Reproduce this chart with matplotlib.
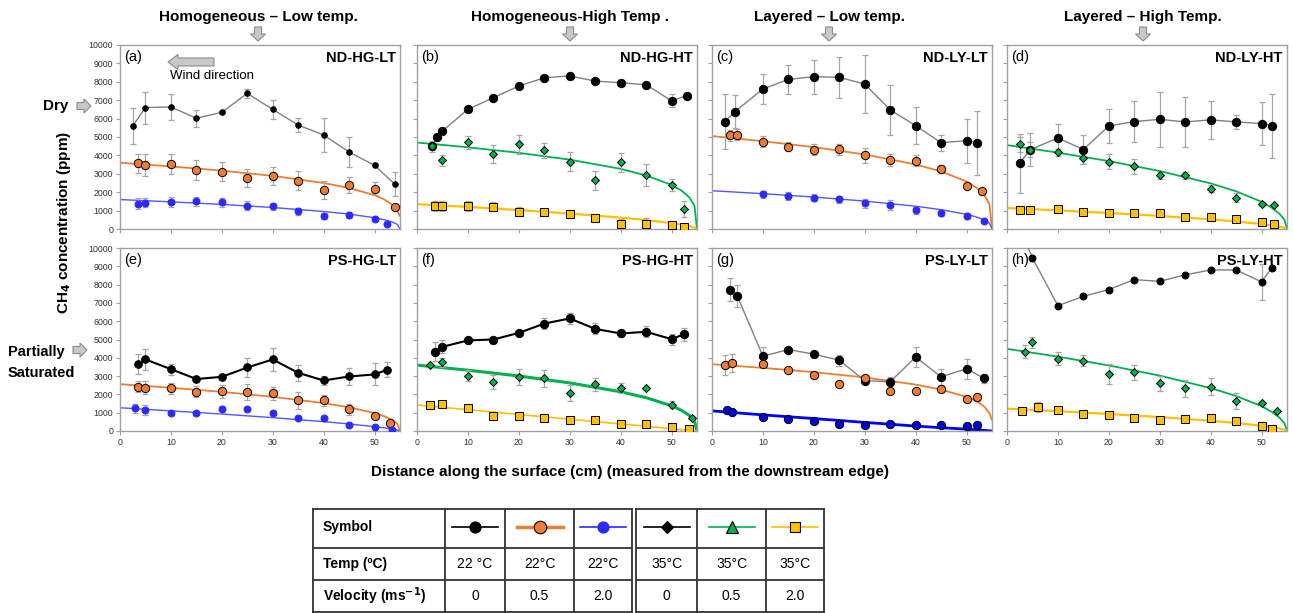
import matplotlib.pyplot as plt
from matplotlib.patches import FancyArrow

plt.rcParams.update({
    "font.family": ["Liberation Sans", "DejaVu Sans"],
    "axes.linewidth": 1.0,
})

# ----- data (ppm vs cm) -----
FIT_X = [0, 10, 20, 30, 40, 45, 50, 52, 53.5, 54.5, 55]

# (a) ND-HG-LT
a_blk_x = [2.5, 5, 10, 15, 20, 25, 30, 35, 40, 45, 50, 54]
a_blk_y = [5600, 6600, 6630, 6020, 6340, 7370, 6500, 5650, 5110, 4180, 3460, 2430]
a_blk_e = [1000, 870, 700, 450, 100, 250, 500, 380, 900, 800, 100, 650]
a_org_x = [3.5, 5, 10, 15, 20, 25, 30, 35, 40, 45, 50, 54]
a_org_y = [3570, 3460, 3530, 3220, 3120, 2770, 2880, 2630, 2120, 2390, 2190, 1200]
a_org_e = [500, 600, 550, 550, 500, 500, 500, 500, 500, 450, 350, 100]
a_blu_x = [3.5, 5, 10, 15, 20, 25, 30, 35, 40, 45, 50, 52.5]
a_blu_y = [1360, 1430, 1470, 1500, 1450, 1270, 1230, 960, 710, 760, 530, 290]
a_blu_e = [300, 250, 250, 250, 250, 250, 200, 200, 150, 150, 100, 50]
a_org_fit = [3600, 3400, 3170, 2890, 2500, 2230, 1840, 1595, 1315, 965, 700]
a_blu_fit = [1600, 1477, 1336, 1168, 952, 810, 613, 500, 380, 245, 0]

# (b) ND-HG-HT
b_blk_x = [3, 4, 5, 10, 15, 20, 25, 30, 35, 40, 45, 50, 53]
b_blk_y = [4490, 5020, 5330, 6500, 7140, 7770, 8220, 8320, 8040, 7950, 7840, 6970, 7250]
b_blk_e = [100, 100, 100, 100, 100, 100, 100, 100, 100, 100, 100, 350, 100]
b_grn_x = [3, 5, 10, 15, 20, 25, 30, 35, 40, 45, 50, 52.5]
b_grn_y = [4490, 3730, 4710, 4060, 4600, 4280, 3660, 2640, 3620, 2950, 2390, 1090]
b_grn_e = [300, 300, 350, 500, 500, 400, 500, 500, 500, 600, 350, 450]
b_yel_x = [3.5, 5, 10, 15, 20, 25, 30, 35, 40, 45, 50, 52.5]
b_yel_y = [1250, 1250, 1250, 1210, 940, 900, 830, 620, 250, 290, 220, 110]
b_yel_e = [250, 250, 250, 250, 250, 200, 200, 150, 300, 300, 150, 50]
b_grn_fit = [4700, 4440, 4140, 3770, 3270, 2910, 2400, 2080, 1715, 1260, 0]
b_yel_fit = [1350, 1200, 1030, 840, 620, 485, 320, 235, 155, 80, 0]

# (c) ND-LY-LT
c_blk_x = [2.5, 4.5, 10, 15, 20, 25, 30, 35, 40, 45, 50, 52]
c_blk_y = [5830, 6380, 7610, 8130, 8280, 8240, 7880, 6470, 5620, 4690, 4800, 4690]
c_blk_e = [1500, 880, 830, 800, 920, 1100, 1560, 1340, 1020, 440, 1200, 1750]
c_org_x = [3.5, 5, 10, 15, 20, 25, 30, 35, 40, 45, 50, 53]
c_org_y = [5090, 5110, 4750, 4470, 4310, 4330, 4000, 3750, 3700, 3260, 2340, 2070]
c_org_e = [300, 300, 300, 250, 300, 300, 400, 350, 300, 200, 100, 100]
c_blu_x = [10, 15, 20, 25, 30, 35, 40, 45, 50, 53.5]
c_blu_y = [1880, 1790, 1700, 1610, 1390, 1300, 1010, 870, 720, 430]
c_blu_e = [200, 200, 200, 200, 250, 250, 200, 150, 150, 50]
c_org_fit = [5050, 4770, 4450, 4050, 3510, 3130, 2580, 2240, 1840, 1350, 0]
c_blu_fit = [2080, 1920, 1737, 1518, 1238, 1052, 797, 649, 493, 318, 0]

# (d) ND-LY-HT
d_blk_x = [2.5, 4.5, 10, 15, 20, 25, 30, 35, 40, 45, 50, 52]
d_blk_y = [3570, 4300, 4950, 4320, 5600, 5840, 5960, 5820, 5930, 5820, 5730, 5620]
d_blk_e = [1600, 900, 770, 770, 900, 1100, 1500, 1350, 1030, 400, 1180, 1740]
d_grn_x = [2.5, 4.5, 10, 15, 20, 25, 30, 35, 40, 45, 50, 52.5]
d_grn_y = [4610, 4320, 4160, 3840, 3660, 3410, 2920, 2920, 2200, 1710, 1350, 1280]
d_grn_e = [400, 400, 200, 300, 400, 400, 200, 200, 200, 250, 100, 50]
d_yel_x = [2.5, 4.5, 10, 15, 20, 25, 30, 35, 40, 45, 50, 52.5]
d_yel_y = [1030, 1030, 1080, 900, 860, 860, 850, 670, 630, 520, 360, 270]
d_yel_e = [80, 80, 120, 80, 60, 60, 60, 60, 60, 60, 60, 40]
d_grn_fit = [4560, 4150, 3690, 3150, 2480, 2050, 1480, 1160, 840, 500, 0]
d_yel_fit = [1140, 1010, 870, 710, 523, 409, 270, 200, 131, 68, 0]

# (e) PS-HG-LT
e_blk_x = [3.5, 5, 10, 15, 20, 25, 30, 35, 40, 45, 50, 52.5]
e_blk_y = [3650, 3910, 3380, 2840, 2960, 3470, 3910, 3180, 2760, 2980, 3090, 3350]
e_blk_e = [550, 550, 300, 150, 150, 500, 650, 450, 250, 450, 600, 400]
e_org_x = [3.5, 5, 10, 15, 20, 25, 30, 35, 40, 45, 50, 53]
e_org_y = [2420, 2360, 2330, 2150, 2180, 2130, 2070, 1670, 1670, 1200, 840, 420]
e_org_e = [300, 350, 300, 300, 350, 450, 350, 450, 300, 300, 100, 80]
e_blu_x = [3, 5, 10, 15, 20, 25, 30, 35, 40, 45, 50, 53.5]
e_blu_y = [1240, 1150, 1000, 960, 1180, 1180, 960, 710, 730, 350, 200, 50]
e_blu_e = [250, 250, 100, 100, 200, 100, 100, 80, 80, 50, 50, 30]
e_org_fit = [2560, 2363, 2138, 1869, 1523, 1295, 980, 799, 607, 392, 0]
e_blu_fit = [1270, 1100, 926, 730, 512, 385, 237, 166, 102, 47, 0]

# (f) PS-HG-HT
f_blk_x = [3.5, 5, 10, 15, 20, 25, 30, 35, 40, 45, 50, 52.5]
f_blk_y = [4330, 4600, 4950, 5000, 5360, 5870, 6150, 5580, 5330, 5420, 5020, 5290]
f_blk_e = [520, 350, 150, 100, 100, 300, 300, 300, 200, 300, 300, 350]
f_grn_x = [2.5, 5, 10, 15, 20, 25, 30, 35, 40, 45, 50, 54]
f_grn_y = [3600, 3760, 3020, 2670, 2960, 2870, 2090, 2550, 2350, 2330, 1440, 710]
f_grn_e = [80, 250, 300, 400, 450, 450, 450, 350, 300, 80, 200, 50]
f_yel_x = [2.5, 5, 10, 15, 20, 25, 30, 35, 40, 45, 50, 53.5]
f_yel_y = [1420, 1490, 1250, 800, 800, 710, 580, 620, 360, 380, 240, 130]
f_yel_e = [150, 100, 80, 60, 60, 60, 60, 60, 60, 60, 60, 40]
f_grn_fit = [3600, 3323, 3006, 2628, 2142, 1822, 1379, 1123, 853, 551, 0]
f_yel_fit = [1420, 1162, 904, 645, 387, 258, 129, 77, 39, 13, 0]

# (g) PS-LY-LT
g_blk_x = [3.5, 5, 10, 15, 20, 25, 30, 35, 40, 45, 50, 53.5]
g_blk_y = [7730, 7360, 4090, 4450, 4200, 3870, 2750, 2690, 4040, 2960, 3400, 2870]
g_blk_e = [650, 600, 500, 100, 100, 300, 150, 250, 550, 450, 550, 250]
g_org_x = [2.5, 4, 10, 15, 20, 25, 30, 35, 40, 45, 50, 52]
g_org_y = [3600, 3730, 3670, 3360, 3050, 2550, 2910, 2180, 2160, 2310, 1730, 1840]
g_org_e = [550, 500, 100, 100, 100, 80, 100, 80, 80, 100, 80, 200]
g_blu_x = [3, 4, 10, 15, 20, 25, 30, 35, 40, 45, 50, 52]
g_blu_y = [1150, 1050, 760, 670, 550, 400, 350, 380, 350, 350, 270, 330]
g_blu_e = [150, 80, 60, 60, 60, 60, 60, 60, 60, 60, 60, 60]
g_org_fit = [3650, 3450, 3216, 2927, 2537, 2263, 1865, 1617, 1332, 978, 600]
g_blu_fit = [1100, 880, 680, 470, 270, 180, 100, 60, 30, 10, 0]

# (h) PS-LY-HT
h_blk_x = [3, 5, 10, 15, 20, 25, 30, 35, 40, 45, 50, 52]
h_blk_y = [10800, 9450, 6850, 7360, 7730, 8270, 8180, 8530, 8800, 8800, 8150, 8910]
h_blk_e = [0, 0, 60, 60, 60, 60, 60, 60, 60, 60, 1000, 0]
h_grn_x = [3.5, 5, 10, 15, 20, 25, 30, 35, 40, 45, 50, 53]
h_grn_y = [4330, 4860, 3960, 3840, 3110, 3200, 2600, 2330, 2420, 1640, 1510, 1070]
h_grn_e = [350, 300, 350, 300, 550, 400, 400, 450, 450, 450, 100, 50]
h_yel_x = [3, 6, 10, 15, 20, 25, 30, 35, 40, 45, 50, 52]
h_yel_y = [1090, 1310, 1130, 950, 870, 730, 620, 670, 730, 530, 250, 130]
h_yel_e = [150, 250, 80, 80, 80, 80, 60, 60, 60, 60, 60, 40]
h_grn_fit = [4490, 4063, 3583, 3026, 2344, 1913, 1356, 1051, 741, 427, 0]
h_yel_fit = [1220, 1082, 930, 760, 560, 438, 289, 214, 140, 73, 0]

COL_TITLES = ["Homogeneous \u2013 Low temp.", "Homogeneous-High Temp .",
              "Layered \u2013 Low temp.", "Layered \u2013 High Temp."]
TABLE_TEMPS = ["22 \u00b0C", "22\u00b0C", "22\u00b0C", "35\u00b0C", "35\u00b0C", "35\u00b0C"]
TABLE_VELS = ["0", "0.5", "2.0", "0", "0.5", "2.0"]

# ----- colours -----
ORANGE = "#ED7D31"
BLUE = "#2a2aff"
GREEN = "#00B050"
YELLOW = "#FFC000"
GREY_LINE = "#808080"
ERR = "#a6a6a6"
SPINE = "#a0a0a0"

W, H = 1293, 613
fig = plt.figure(figsize=(W / 100, H / 100), dpi=100)
fig.patch.set_facecolor("white")


def px_axes(x0, y0, x1, y1, **kw):
    return fig.add_axes([x0 / W, 1 - y1 / H, (x1 - x0) / W, (y1 - y0) / H], **kw)


def series(ax, x, y, e, marker, ms, fc, ec, line=None, lw=1.0):
    ax.errorbar(x, y, yerr=e, fmt="none", ecolor=ERR, elinewidth=0.9,
                capsize=2, capthick=0.9, zorder=2)
    if line:
        ax.plot(x, y, color=line, lw=lw, zorder=3)
    ax.plot(x, y, ls="none", marker=marker, ms=ms, mfc=fc, mec=ec,
            mew=0.7, zorder=4)


COLS = [(120, 400), (417, 697), (712, 992), (1007, 1287)]
ROWS = [(45, 229), (248, 431)]

# per panel: tag, name, row, col, hot, data, black-line style, fit widths
PANELS = [
    ("(a)", "ND-HG-LT", 0, 0, False,
     (a_blk_x, a_blk_y, a_blk_e), (a_org_x, a_org_y, a_org_e), (a_blu_x, a_blu_y, a_blu_e),
     a_org_fit, a_blu_fit, (4, GREY_LINE, 1.0), (1.3, 1.0)),
    ("(b)", "ND-HG-HT", 0, 1, True,
     (b_blk_x, b_blk_y, b_blk_e), (b_grn_x, b_grn_y, b_grn_e), (b_yel_x, b_yel_y, b_yel_e),
     b_grn_fit, b_yel_fit, (6, GREY_LINE, 1.0), (1.3, 1.6)),
    ("(c)", "ND-LY-LT", 0, 2, False,
     (c_blk_x, c_blk_y, c_blk_e), (c_org_x, c_org_y, c_org_e), (c_blu_x, c_blu_y, c_blu_e),
     c_org_fit, c_blu_fit, (6, GREY_LINE, 1.0), (1.3, 1.0)),
    ("(d)", "ND-LY-HT", 0, 3, True,
     (d_blk_x, d_blk_y, d_blk_e), (d_grn_x, d_grn_y, d_grn_e), (d_yel_x, d_yel_y, d_yel_e),
     d_grn_fit, d_yel_fit, (6, GREY_LINE, 1.0), (1.3, 1.6)),
    ("(e)", "PS-HG-LT", 1, 0, False,
     (e_blk_x, e_blk_y, e_blk_e), (e_org_x, e_org_y, e_org_e), (e_blu_x, e_blu_y, e_blu_e),
     e_org_fit, e_blu_fit, (5.5, "black", 1.5), (1.3, 1.0)),
    ("(f)", "PS-HG-HT", 1, 1, True,
     (f_blk_x, f_blk_y, f_blk_e), (f_grn_x, f_grn_y, f_grn_e), (f_yel_x, f_yel_y, f_yel_e),
     f_grn_fit, f_yel_fit, (6, "black", 1.5), (2.2, 1.2)),
    ("(g)", "PS-LY-LT", 1, 2, False,
     (g_blk_x, g_blk_y, g_blk_e), (g_org_x, g_org_y, g_org_e), (g_blu_x, g_blu_y, g_blu_e),
     g_org_fit, g_blu_fit, (6, GREY_LINE, 1.0), (1.3, 2.0)),
    ("(h)", "PS-LY-HT", 1, 3, True,
     (h_blk_x, h_blk_y, h_blk_e), (h_grn_x, h_grn_y, h_grn_e), (h_yel_x, h_yel_y, h_yel_e),
     h_grn_fit, h_yel_fit, (5, GREY_LINE, 1.0), (1.3, 1.6)),
]

for tag, name, r, c, hot, blk, mid, low, mid_fit, low_fit, bstyle, fitw in PANELS:
    x0, x1 = COLS[c]
    y0, y1 = ROWS[r]
    ax = px_axes(x0, y0, x1, y1)
    ax.set_xlim(0, 55)
    ax.set_ylim(0, 10000)
    ax.set_xticks(range(0, 55, 10))
    ax.set_yticks(range(0, 10001, 1000))
    for s in ax.spines.values():
        s.set_color(SPINE)
    ax.tick_params(length=3, width=0.8, color=SPINE, labelsize=6.3,
                   labelcolor="#333333", pad=2)
    if c != 0:
        ax.set_yticklabels([])
    if r == 0:
        ax.set_xticklabels([])

    # fitted curves
    if hot:
        ax.plot(FIT_X, mid_fit, color=GREEN, lw=fitw[0], zorder=1)
        ax.plot(FIT_X, low_fit, color=YELLOW, lw=fitw[1], zorder=1)
    else:
        ax.plot(FIT_X, mid_fit, color=ORANGE, lw=fitw[0], zorder=1)
        ax.plot(FIT_X, low_fit, color="#0000ff" if tag == "(g)" else "#5555ff",
                lw=fitw[1], zorder=1)

    ms, lcol, lw = bstyle
    series(ax, *blk, "o", ms, "black", "black", line=lcol, lw=lw)
    if hot:
        series(ax, *mid, "D", 4.2, GREEN, "black")
        series(ax, *low, "s", 5.5, YELLOW, "black")
    else:
        series(ax, *mid, "o", 6, ORANGE, "black")
        if tag == "(g)":
            series(ax, *low, "o", 6, "#0000dd", "black")
        else:
            series(ax, *low, "o", 5, BLUE, BLUE)

    ax.text(0.015, 0.975, tag, transform=ax.transAxes, ha="left", va="top",
            fontsize=10.5, zorder=6)
    ax.text(0.985, 0.965, name, transform=ax.transAxes, ha="right", va="top",
            fontsize=10.5, weight="bold", zorder=6)

# ----- overlay in pixel coordinates -----
ov = px_axes(0, 0, W, H, zorder=10)
ov.set_xlim(0, W)
ov.set_ylim(H, 0)
ov.axis("off")
ov.patch.set_alpha(0)

ARW = dict(facecolor="#c8c8c8", edgecolor="#8c8c8c", linewidth=0.8,
           length_includes_head=True)

for (cx, title) in zip([258, 570, 829, 1143], COL_TITLES):
    ov.text(cx, 17, title, ha="center", va="center", fontsize=11, weight="bold")
    ov.add_patch(FancyArrow(cx, 27, 0, 14, width=7, head_width=15,
                            head_length=7, **ARW))

# row labels
ov.text(43, 106, "Dry", ha="left", va="center", fontsize=11, weight="bold")
ov.add_patch(FancyArrow(77, 106, 14, 0, width=7, head_width=14, head_length=7, **ARW))
ov.text(8, 352, "Partially", ha="left", va="center", fontsize=10.5, weight="bold")
ov.text(8, 373, "Saturated", ha="left", va="center", fontsize=10.5, weight="bold")
ov.add_patch(FancyArrow(73, 350, 14, 0, width=7, head_width=14, head_length=7, **ARW))

# wind direction
ov.add_patch(FancyArrow(214, 62, -46, 0, width=8, head_width=15, head_length=10, **ARW))
ov.text(170, 76, "Wind direction", ha="left", va="center", fontsize=9.5)

# axis titles
ov.text(64, 222, "CH$_\\mathbf{4}$ concentration (ppm)", rotation=90, ha="center",
        va="center", fontsize=11, weight="bold")
ov.text(630, 472, "Distance along the surface (cm) (measured from the downstream edge)",
        ha="center", va="center", fontsize=11, weight="bold")

# ----- legend table -----
ROW_Y = [509, 548, 580, 612]
BLOCKS = [[313, 445, 505, 574, 632], [636, 697, 766, 824]]
for xs in BLOCKS:
    for yy in ROW_Y:
        ov.plot([xs[0], xs[-1]], [yy, yy], color="#333333", lw=1.3)
    for xx in xs:
        ov.plot([xx, xx], [ROW_Y[0], ROW_Y[-1]], color="#333333", lw=1.3)

ov.text(323, 527, "Symbol", ha="left", va="center", fontsize=10, weight="bold")
ov.text(323, 564, "Temp (\u00baC)", ha="left", va="center", fontsize=10, weight="bold")
ov.text(323, 596, "Velocity (ms$^{\\mathbf{-1}}$)", ha="left", va="center",
        fontsize=10, weight="bold")

cell_x = BLOCKS[0][1:] + BLOCKS[1]
centers = [(cell_x[i] + cell_x[i + 1]) / 2 for i in [0, 1, 2, 4, 5, 6]]
SYMBOLS = [("black", 1.2, "o", "black", "black", 8),
           (ORANGE, 2.5, "o", ORANGE, "black", 9),
           (BLUE, 1.2, "o", BLUE, BLUE, 8),
           ("black", 1.2, "D", "black", "black", 6.5),
           (GREEN, 1.2, "^", GREEN, "black", 8),
           (YELLOW, 1.2, "s", YELLOW, "black", 7)]
for cx, (lc, lw, mk, fc, ec, ms), tt, vv in zip(centers, SYMBOLS, TABLE_TEMPS, TABLE_VELS):
    ov.plot([cx - 23, cx + 23], [527, 527], color=lc, lw=lw)
    ov.plot([cx], [527], marker=mk, ms=ms, mfc=fc, mec=ec, mew=0.8)
    ov.text(cx, 564, tt, ha="center", va="center", fontsize=10)
    ov.text(cx, 596, vv, ha="center", va="center", fontsize=10)

fig.savefig("out.png", dpi=100, facecolor="white")
